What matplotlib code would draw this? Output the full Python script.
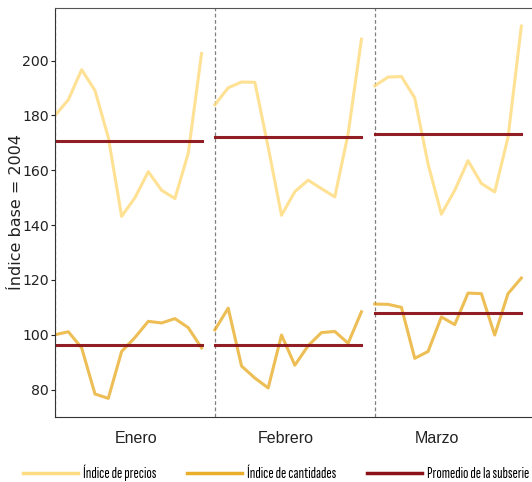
import numpy as np
import matplotlib.pyplot as plt
from matplotlib.lines import Line2D

meses = ['Enero', 'Febrero', 'Marzo']

# indice de precios (12 observaciones por mes)
precios_enero = [180.0, 185.7, 196.7, 189.1, 172.0, 143.2, 150.0, 159.5, 152.7, 149.7, 166.2, 202.6]
precios_febrero = [183.9, 190.1, 192.2, 192.1, 168.4, 143.6, 152.2, 156.4, 153.3, 150.3, 173.3, 207.8]
precios_marzo = [190.8, 194.0, 194.2, 186.4, 162.3, 144.0, 152.7, 163.5, 155.2, 152.1, 172.0, 212.6]

# indice de cantidades
cant_enero = [100.0, 101.1, 95.2, 78.4, 76.8, 93.9, 99.0, 104.9, 104.3, 105.9, 102.6, 95.2]
cant_febrero = [101.8, 109.7, 88.6, 84.2, 80.6, 99.9, 88.9, 96.0, 100.8, 101.2, 96.9, 108.4]
cant_marzo = [111.2, 111.1, 110.0, 91.4, 93.9, 106.5, 103.7, 115.2, 115.0, 99.9, 115.0, 120.7]

precios = [precios_enero, precios_febrero, precios_marzo]
cantidades = [cant_enero, cant_febrero, cant_marzo]

c_precios = '#FFDC82'
c_cant = '#E9AE2A'
c_prom = '#8B1218'

fig = plt.figure(figsize=(5.32, 4.82), dpi=100)
ax = fig.add_axes([55 / 532, 65 / 482, 477 / 532, 409 / 482])

for i in range(3):
    x = np.arange(12) + 12 * i
    ax.plot(x, precios[i], color=c_precios, lw=2.2, alpha=0.85)
    ax.plot(x, cantidades[i], color=c_cant, lw=2.2, alpha=0.8)
    ax.plot([x[0], x[-1]], [np.mean(precios[i])] * 2, color=c_prom, lw=2.2, alpha=0.95)
    ax.plot([x[0], x[-1]], [np.mean(cantidades[i])] * 2, color=c_prom, lw=2.2, alpha=0.95)
    ax.axvline(12 * i, color='gray', ls=(0, (3, 2)), lw=0.9, zorder=0)

ax.set_xlim(0, 35.8)
ax.set_ylim(70, 219.2)
ax.set_yticks([80, 100, 120, 140, 160, 180, 200])
ax.tick_params(axis='y', labelsize=10.2, length=3, pad=1.5, colors='#222222')
ax.set_xticks([6.1, 17.3, 28.7])
ax.set_xticklabels(meses, fontsize=11.5, family=['Liberation Sans', 'DejaVu Sans'], color='#222222')
ax.tick_params(axis='x', length=0, pad=10)
ax.spines['right'].set_visible(False)
ax.spines['top'].set_color('#555555')
ax.spines['left'].set_color('#333333')
ax.spines['bottom'].set_color('#333333')
ax.set_ylabel('Índice base = 2004', fontsize=11.5, color='#222222')
ax.yaxis.set_label_coords(-0.066, 0.5)

handles = [Line2D([], [], color=c_precios, lw=2.5),
           Line2D([], [], color=c_cant, lw=2.5),
           Line2D([], [], color=c_prom, lw=2.5)]
labels = ['Índice de precios', 'Índice de cantidades', 'Promedio de la subserie']
fig.legend(handles, labels, loc='center left', bbox_to_anchor=(23 / 532, 1 - 473 / 482),
           ncol=3, frameon=False, borderpad=0, borderaxespad=0,
           handlelength=3.44, handletextpad=0.31, columnspacing=1.94,
           prop={'family': ['Sofia Sans Extra Condensed', 'DejaVu Sans'], 'size': 11.5})

fig.savefig('out.png', dpi=100)
